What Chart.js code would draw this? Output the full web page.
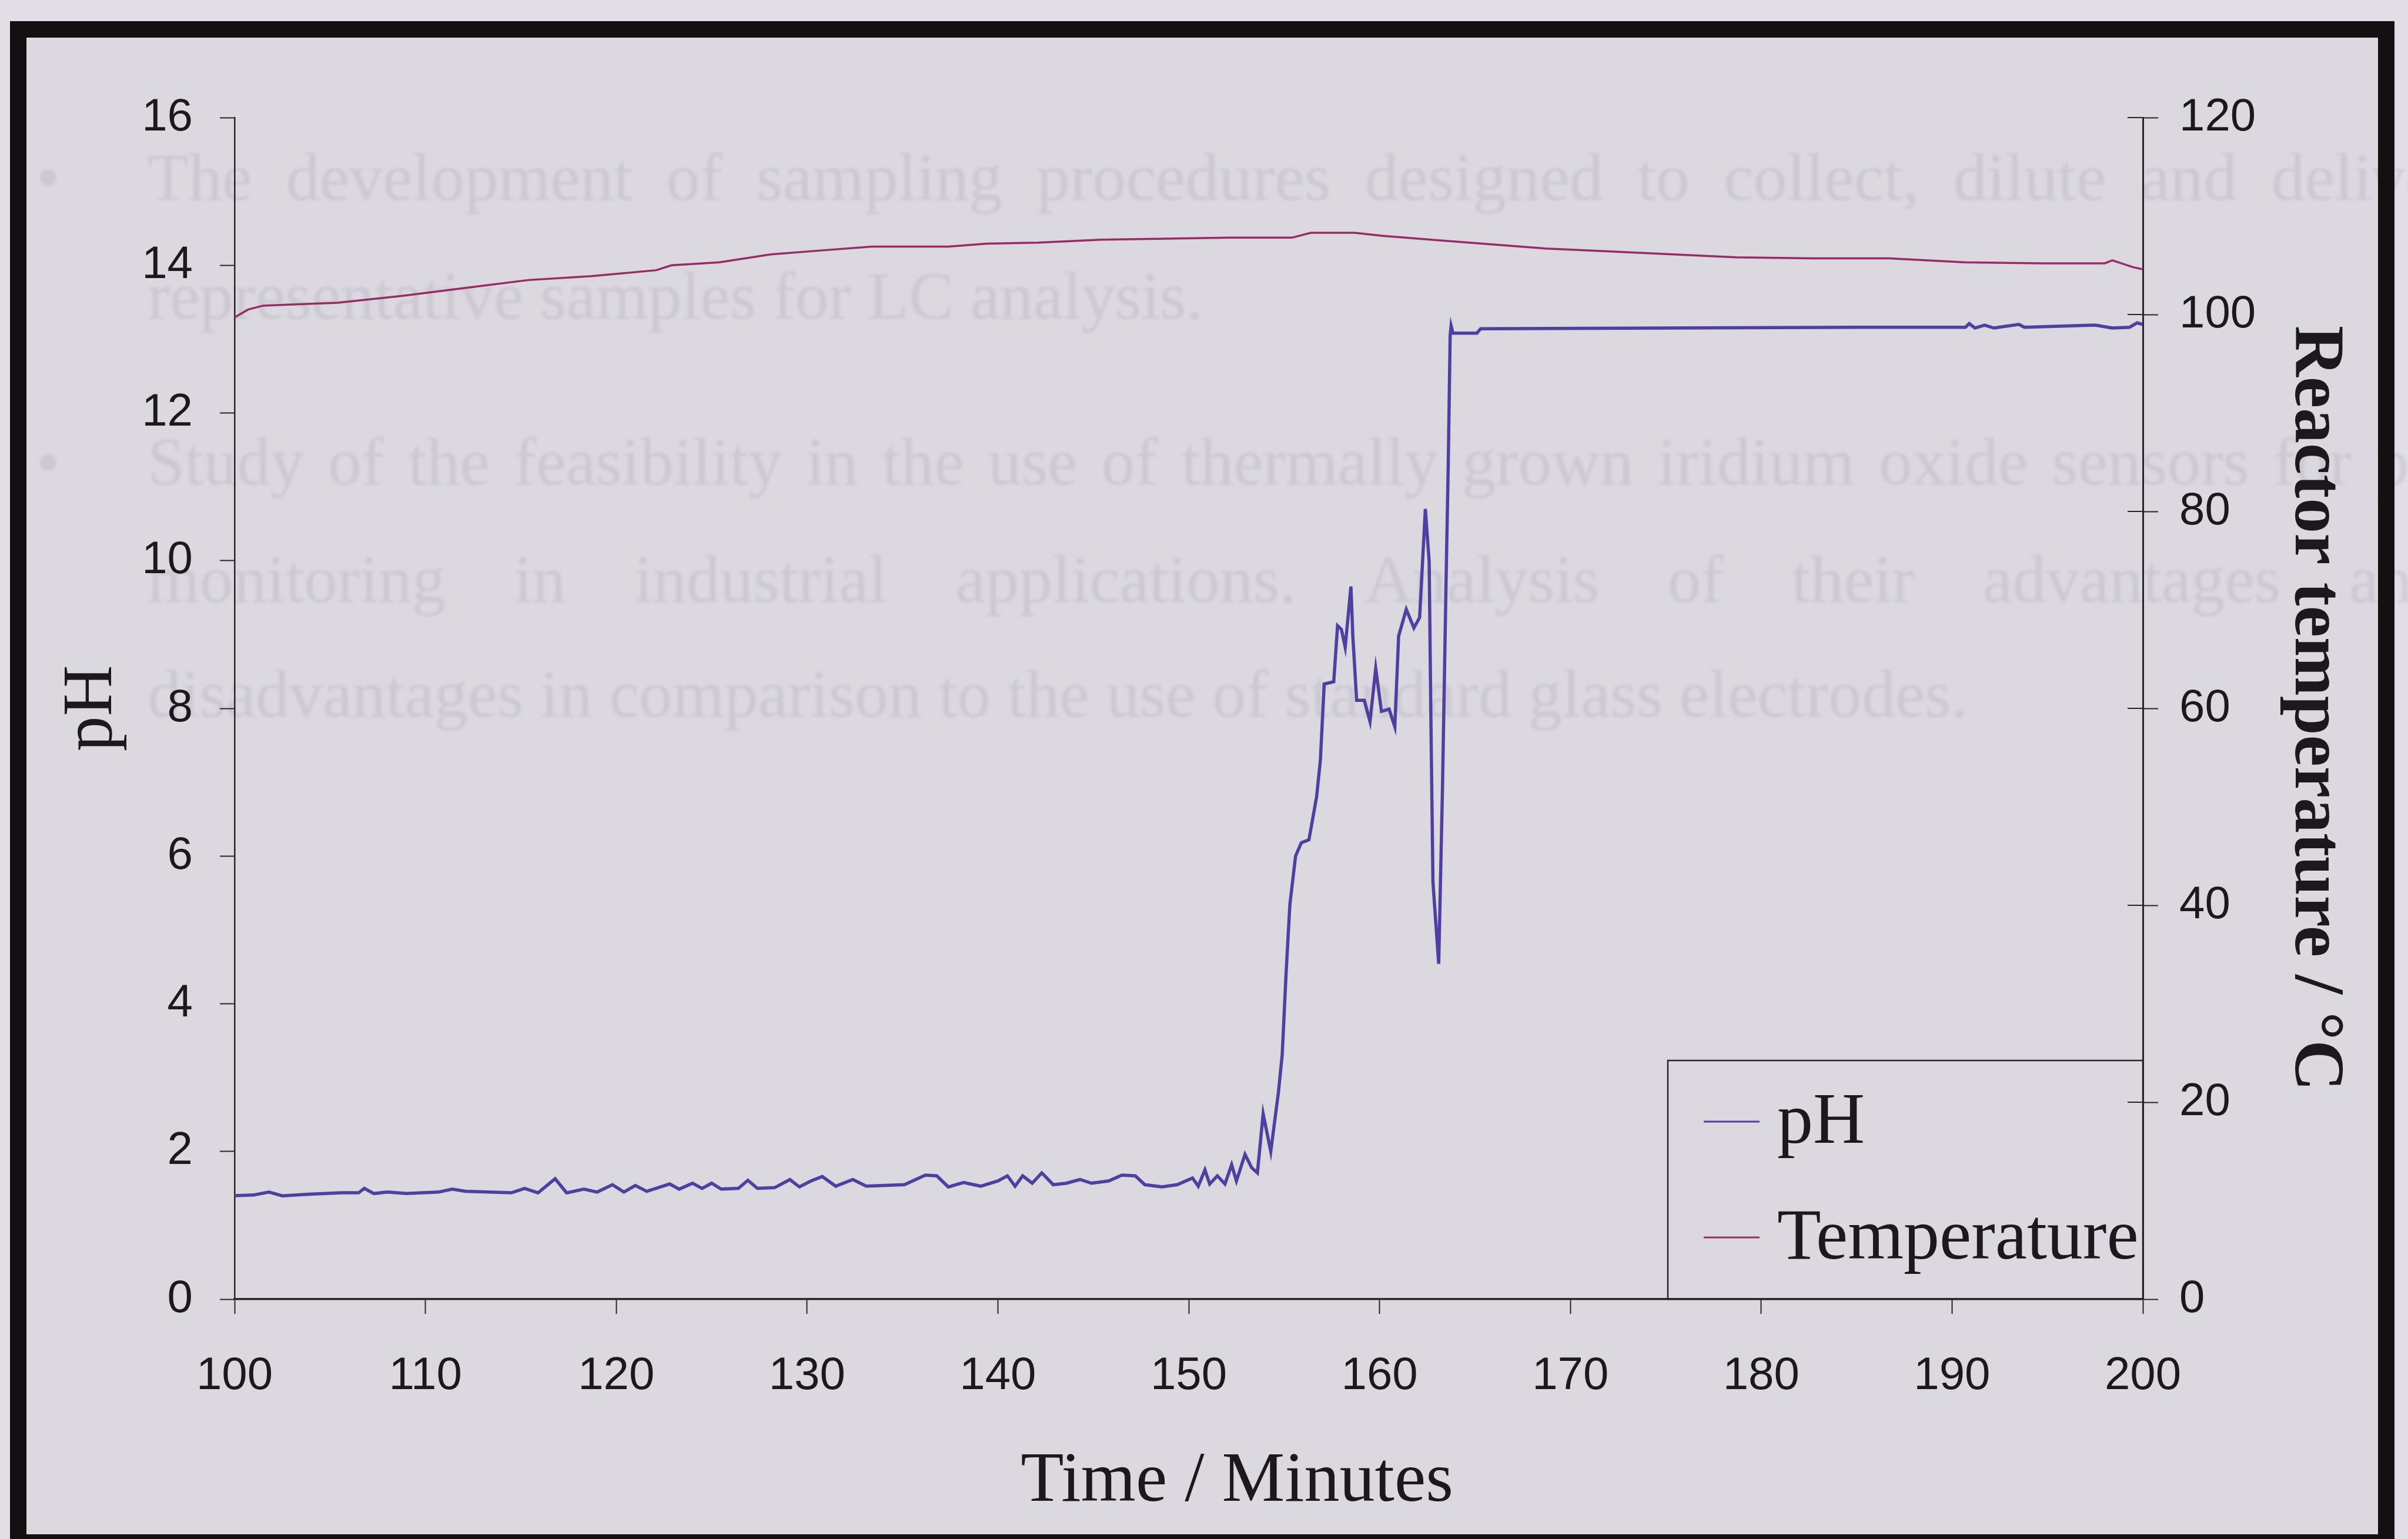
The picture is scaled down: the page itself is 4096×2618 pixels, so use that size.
<!DOCTYPE html>
<html>
<head>
<meta charset="utf-8">
<title>pH and reactor temperature</title>
<script src="https://cdn.jsdelivr.net/npm/chart.js@4.4.1/dist/chart.umd.min.js"></script>
<style>
  html, body { margin: 0; padding: 0; background: #e0dde5; overflow: hidden; }
  canvas { display: block; }
</style>
</head>
<body>
<canvas id="phChart" width="4096" height="2618"></canvas>
<script>
const phTime = [
    100.0, 101.0, 101.8, 102.5, 103.9, 105.6, 106.5, 106.8, 107.3, 108.0,
    109.0, 110.7, 111.4, 112.1, 114.5, 115.2, 115.9, 116.8, 117.4, 118.3,
    119.0, 119.8, 120.4, 121.0, 121.6, 122.8, 123.3, 124.0, 124.5, 125.0,
    125.5, 126.4, 126.9, 127.4, 128.3, 129.1, 129.6, 130.2, 130.8, 131.5,
    132.4, 133.1, 134.1, 135.1, 136.2, 136.8, 137.4, 138.2, 139.1, 140.0,
    140.5, 140.9, 141.3, 141.8, 142.3, 142.9, 143.6, 144.3, 144.9, 145.8,
    146.5, 147.2, 147.7, 148.6, 149.4, 150.2, 150.5, 150.85, 151.1, 151.5,
    151.9, 152.25, 152.5, 152.95, 153.3, 153.6, 153.9, 154.3, 154.7, 154.9,
    155.1, 155.3, 155.6, 155.9, 156.3, 156.7, 156.9, 157.1, 157.6, 157.8,
    158.0, 158.2, 158.5, 158.6, 158.8, 159.2, 159.5, 159.8, 160.1, 160.5,
    160.8, 161.0, 161.4, 161.8, 162.1, 162.4, 162.6, 162.7, 162.8, 163.1,
    163.3, 163.5, 163.6, 163.7, 163.75, 163.85, 165.1, 165.3, 175.0, 185.0,
    190.7, 190.9, 191.2, 191.7, 192.2, 193.5, 193.8, 197.5, 198.4, 199.3,
    199.7, 200.0
];
const phValue = [
    1.40, 1.41, 1.45, 1.40, 1.42, 1.44, 1.44, 1.50, 1.43, 1.45,
    1.43, 1.45, 1.49, 1.46, 1.44, 1.50, 1.44, 1.63, 1.44, 1.49,
    1.45, 1.55, 1.45, 1.54, 1.46, 1.56, 1.49, 1.57, 1.50, 1.57,
    1.49, 1.50, 1.61, 1.50, 1.51, 1.62, 1.52, 1.60, 1.66, 1.53,
    1.62, 1.53, 1.54, 1.55, 1.68, 1.67, 1.52, 1.58, 1.53, 1.60,
    1.67, 1.53, 1.67, 1.57, 1.71, 1.55, 1.57, 1.62, 1.57, 1.60,
    1.68, 1.67, 1.55, 1.52, 1.55, 1.64, 1.53, 1.75, 1.56, 1.67,
    1.56, 1.82, 1.60, 1.96, 1.78, 1.71, 2.51, 2.00, 2.80, 3.31,
    4.40, 5.34, 6.00, 6.18, 6.22, 6.80, 7.30, 8.33, 8.36, 9.12,
    9.07, 8.83, 9.65, 8.98, 8.11, 8.11, 7.82, 8.54, 7.96, 7.99,
    7.75, 8.98, 9.34, 9.09, 9.23, 10.70, 9.99, 7.67, 5.64, 4.54,
    6.94, 9.92, 11.30, 13.05, 13.18, 13.08, 13.08, 13.14, 13.15, 13.16,
    13.16, 13.21, 13.15, 13.19, 13.15, 13.20, 13.16, 13.19, 13.15, 13.16,
    13.22, 13.20
];
const tempTime = [
    100.0, 100.7, 101.5, 102.8, 105.4, 108.8, 112.1, 115.4, 118.7, 122.1,
    122.9, 125.4, 128.1, 130.7, 133.4, 137.4, 139.4, 142.1, 145.4, 148.8,
    152.1, 155.4, 156.4, 158.7, 160.1, 162.7, 165.4, 168.7, 172.1, 175.4,
    178.7, 182.7, 186.7, 190.7, 194.7, 198.0, 198.4, 199.5, 200.0
];
const tempValue = [
    99.7, 100.5, 100.9, 101.0, 101.2, 101.9, 102.7, 103.5, 103.9, 104.5,
    105.0, 105.3, 106.1, 106.5, 106.9, 106.9, 107.2, 107.3, 107.6, 107.7,
    107.8, 107.8, 108.3, 108.3, 108.0, 107.6, 107.2, 106.7, 106.4, 106.1,
    105.8, 105.7, 105.7, 105.3, 105.2, 105.2, 105.5, 104.8, 104.6
];
const timeRange = [100, 200, 10];
const phRange = [0, 16, 2];
const tempRange = [0, 120, 20];

// text from the printed page showing through the scan
const pageText = [
    'The development of sampling procedures designed to collect, dilute and deliver',
    'representative samples for LC analysis.',
    'Study of the feasibility in the use of thermally grown iridium oxide sensors for pH',
    'monitoring in industrial applications. Analysis of their advantages and',
    'disadvantages in comparison to the use of standard glass electrodes.'
];

document.addEventListener("DOMContentLoaded", function(){
    const ctx = document.getElementById('phChart').getContext('2d');
    const ink = '#1d181b';
    const axisInk = '#2a2327';
    const paper = '#dbd8e0';

    Chart.defaults.font.family = '"Liberation Sans", Arial, sans-serif';

    const pagePlugin = {
        id: 'page',
        beforeDraw(chart) {
            const c = chart.ctx;
            c.save();
            c.fillStyle = '#e1dee6';
            c.fillRect(0, 0, chart.width, chart.height);
            c.fillStyle = paper;
            c.fillRect(31, 50, chart.width - 68, chart.height - 50);

            // x start, justified right edge (0 = ragged), baseline, bullet
            const spots = [
                [251, 4180, 340, true], [251, 0, 542, false],
                [251, 4180, 824, true], [251, 4160, 1024, false],
                [251, 0, 1219, false]
            ];
            c.filter = 'blur(2px)';
            c.fillStyle = 'rgba(105, 100, 122, 0.13)';
            c.font = '114px "Liberation Serif"';
            c.textBaseline = 'alphabetic';
            pageText.forEach(function(line, i) {
                const [x0, x1, y, bullet] = spots[i];
                if (bullet) c.fillText('\u2022', 62, y);
                const words = line.split(' ');
                const widths = words.map(w => c.measureText(w).width);
                const total = widths.reduce((a, b) => a + b, 0);
                const gap = x1 ? (x1 - x0 - total) / (words.length - 1) : c.measureText(' ').width;
                let x = x0;
                words.forEach(function(w, k) {
                    c.fillText(w, x, y);
                    x += widths[k] + gap;
                });
            });
            c.restore();
        },
        afterDraw(chart) {
            const c = chart.ctx;
            const area = chart.chartArea;
            const y1 = chart.scales.y1;
            const xs = chart.scales.x;
            c.save();

            // right axis ticks also reach into the plot
            c.strokeStyle = axisInk;
            c.lineWidth = 2;
            y1.ticks.forEach(function(t) {
                const py = y1.getPixelForValue(t.value);
                c.beginPath();
                c.moveTo(area.right - 26, py);
                c.lineTo(area.right, py);
                c.stroke();
            });

            // x axis title sits a little right of centre in the original
            c.font = '120px "Liberation Serif"';
            c.fillStyle = ink;
            c.textAlign = 'center';
            c.textBaseline = 'alphabetic';
            c.fillText(xs.options.title.text, (area.left + area.right) / 2 + 82, 2553);
            c.textAlign = 'left';

            // legend box in the lower right corner
            const left = area.right - 808;
            const top = area.bottom - 406;
            c.lineWidth = 2.5;
            c.strokeRect(left, top, 808, 406);
            c.font = '122px "Liberation Serif"';
            chart.data.datasets.forEach(function(ds, i) {
                const ly = top + 104 + i * 197;
                c.strokeStyle = ds.borderColor;
                c.lineWidth = 3;
                c.beginPath();
                c.moveTo(left + 61, ly);
                c.lineTo(left + 156, ly);
                c.stroke();
                c.fillText(ds.label, left + 186, ly + 36);
            });

            // black frame of the page
            c.strokeStyle = '#141011';
            c.lineWidth = 28;
            c.strokeRect(31, 50, 4028, 2574);
            c.restore();
        }
    };

    const data = {
        datasets: [{
            label: 'pH',
            data: phTime.map((t, i) => ({x: t, y: phValue[i]})),
            borderColor: '#4f3f9e',
            borderWidth: 5.5,
            pointRadius: 0,
            yAxisID: 'y'
        }, {
            label: 'Temperature',
            data: tempTime.map((t, i) => ({x: t, y: tempValue[i]})),
            borderColor: '#962c66',
            borderWidth: 3.5,
            pointRadius: 0,
            yAxisID: 'y1'
        }]
    };

    const config = {
        type: 'line',
        data: data,
        options: {
            responsive: false,
            animation: false,
            devicePixelRatio: 1,
            layout: {
                padding: {top: 200, left: 0, right: 0, bottom: 0}
            },
            plugins: {
                legend: {display: false},
                tooltip: {enabled: false}
            },
            scales: {
                x: {
                    type: 'linear',
                    min: timeRange[0],
                    max: timeRange[1],
                    ticks: {stepSize: timeRange[2], color: ink, font: {size: 78}, padding: 60},
                    grid: {drawOnChartArea: false, tickLength: 25, tickWidth: 2, color: axisInk},
                    border: {color: axisInk, width: 3.5},
                    title: {display: false, text: 'Time / Minutes'},
                    afterFit: function(scale) { scale.height = 408; }
                },
                y: {
                    position: 'left',
                    min: phRange[0],
                    max: phRange[1],
                    ticks: {stepSize: phRange[2], color: ink, font: {size: 78}, padding: 46},
                    grid: {drawOnChartArea: false, tickLength: 25, tickWidth: 2, color: axisInk},
                    border: {color: axisInk, width: 2.5},
                    title: {
                        display: true,
                        text: 'pH',
                        color: ink,
                        font: {family: '"Liberation Serif"', size: 120},
                        padding: {top: 85, bottom: 0}
                    },
                    afterFit: function(scale) { scale.width = 399; }
                },
                y1: {
                    position: 'right',
                    min: tempRange[0],
                    max: tempRange[1],
                    ticks: {stepSize: tempRange[2], color: ink, font: {size: 78}, padding: 36},
                    grid: {drawOnChartArea: false, tickLength: 26, tickWidth: 2, color: axisInk},
                    border: {color: axisInk, width: 3},
                    title: {
                        display: true,
                        text: 'Reactor temperature / \u00B0C',
                        color: ink,
                        font: {family: '"Liberation Serif"', size: 120, weight: 'bold'},
                        padding: {top: 88, bottom: 0}
                    },
                    afterFit: function(scale) { scale.width = 451; }
                }
            }
        },
        plugins: [pagePlugin]
    };

    const phChart = new Chart(ctx, config);
});
</script>
</body>
</html>
